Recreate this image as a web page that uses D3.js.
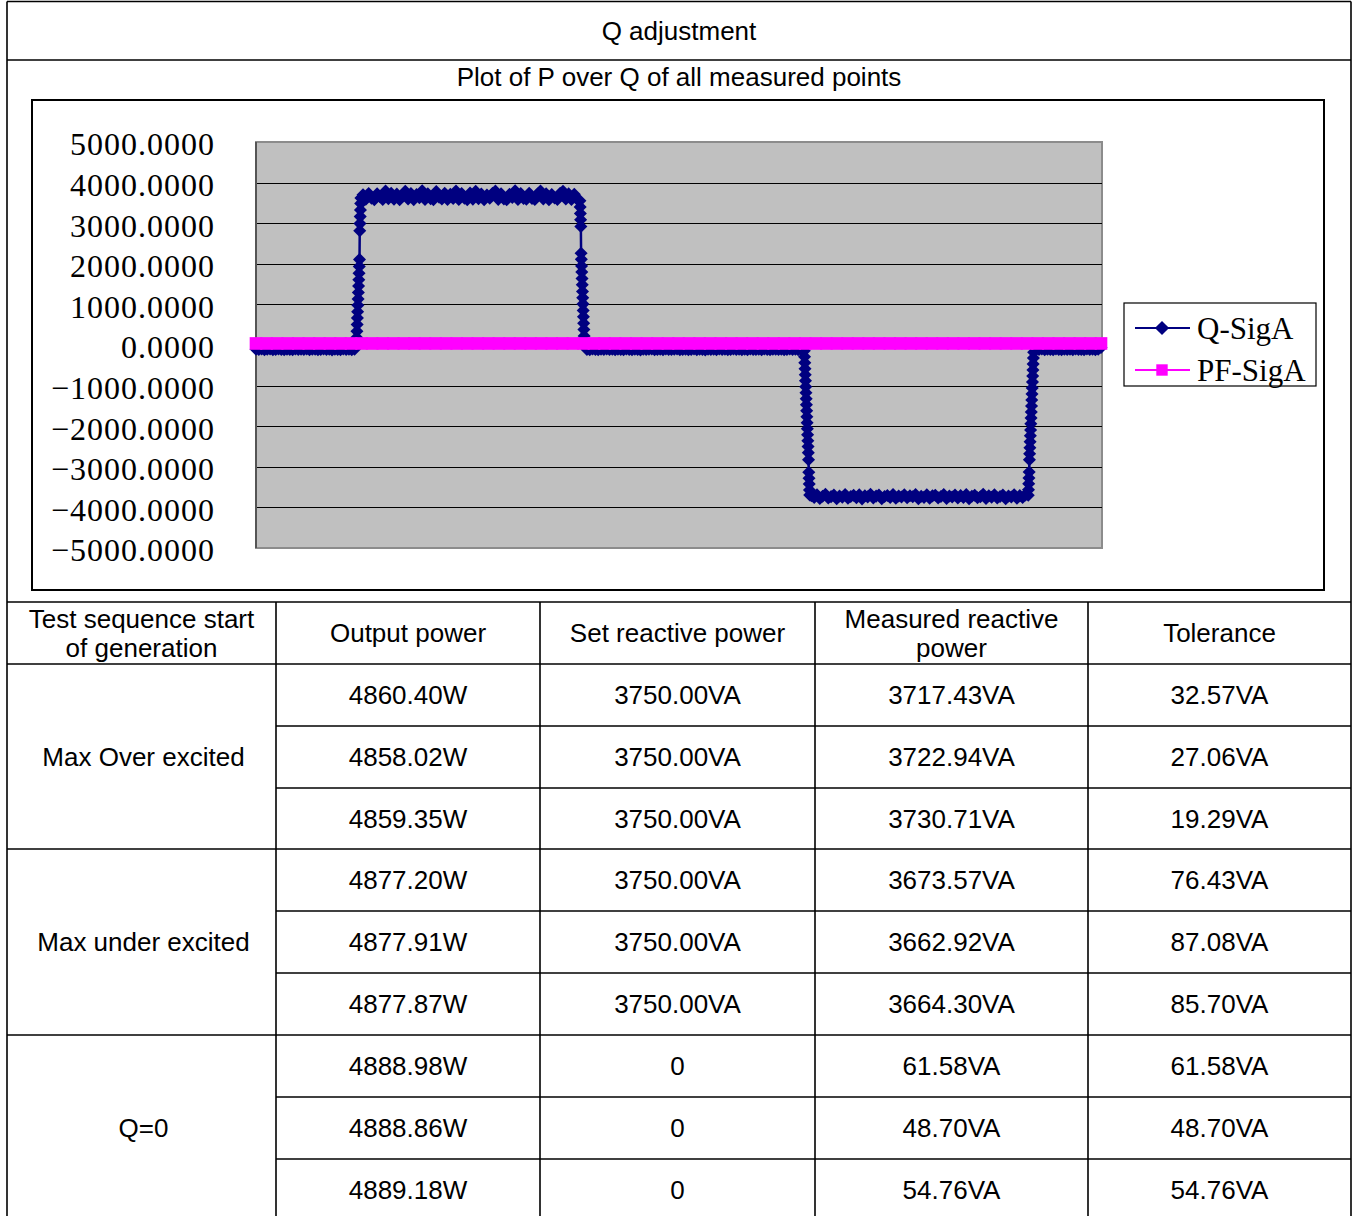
<!DOCTYPE html>
<html>
<head>
<meta charset="utf-8">
<script src="https://cdn.jsdelivr.net/npm/d3@7"></script>
<style>
  body { margin: 0; background: #fff; }
  svg { display: block; }
</style>
</head>
<body>
<script>
// Q-SigA measurements as [sample, VAr], split by test phase
var qBaseStart = [[0,-104],[12,-112],[24,-98],[36,-117],[48,-106],[60,-101],[72,-114],[84,-109],[96,-96],
  [108,-111],[120,-119],[132,-103],[144,-108],[156,-115],[168,-100],[180,-110],[192,-105],[204,-113],[216,-99],
  [228,-118],[240,-107],[252,-102],[264,-116],[276,-110],[288,-97],[300,-112],[312,-105],[324,-120],[336,-103],
  [348,-109],[360,-114],[372,-100],[384,-111],[396,-106],[408,-117],[420,-104]];
var qRiseOver = [[428,32],[429,184],[430,341],[431,507],[432,668],[433,821],[434,979],[435,1134],[436,1291],
  [437,1452],[438,1608],[439,1766],[440,1931],[441,2108],[442,2816],[443,2990],[444,3162],[445,3327],[446,3488],[447,3619]];
var qPlateauOver = [[456,3702],[468,3588],[480,3731],[492,3612],[504,3579],[516,3724],[528,3655],[540,3583],
  [552,3792],[564,3604],[576,3738],[588,3590],[600,3716],[612,3577],[624,3689],[636,3786],[648,3598],[660,3733],
  [672,3581],[684,3709],[696,3626],[708,3799],[720,3586],[732,3727],[744,3603],[756,3578],[768,3783],[780,3640],
  [792,3594],[804,3736],[816,3582],[828,3711],[840,3608],[852,3795],[864,3585],[876,3729],[888,3617],[900,3576],
  [912,3742],[924,3593],[936,3788],[948,3601],[960,3720],[972,3580],[984,3697],[996,3612],[1008,3735],[1020,3790],
  [1032,3587],[1044,3724],[1056,3599],[1068,3578],[1080,3713],[1092,3632],[1104,3797],[1116,3584],[1128,3730],
  [1140,3606],[1152,3589],[1164,3739],[1176,3611],[1188,3582],[1200,3718],[1212,3791],[1224,3595],[1236,3726],
  [1248,3579],[1260,3704],[1272,3621],[1284,3586],[1296,3737],[1308,3785],[1320,3597],[1332,3722],[1344,3583],
  [1356,3710],[1368,3592]];
var qFallOver = [[1380,3552],[1381,3398],[1382,3241],[1383,3087],[1384,2918],[1385,2262],[1386,2109],[1387,1948],
  [1388,1796],[1389,1637],[1390,1482],[1391,1319],[1392,1166],[1393,1007],[1394,852],[1395,694],[1396,538],
  [1397,381],[1398,224],[1399,68]];
var qBaseMid = [[1410,-108],[1422,-115],[1434,-101],[1446,-112],[1458,-119],[1470,-104],[1482,-110],[1494,-97],
  [1506,-113],[1518,-106],[1530,-118],[1542,-102],[1554,-109],[1566,-114],[1578,-99],[1590,-111],[1602,-116],
  [1614,-105],[1626,-108],[1638,-120],[1650,-103],[1662,-112],[1674,-107],[1686,-98],[1698,-115],[1710,-110],
  [1722,-104],[1734,-117],[1746,-101],[1758,-109],[1770,-113],[1782,-106],[1794,-100],[1806,-118],[1818,-111],
  [1830,-103],[1842,-114],[1854,-108],[1866,-99],[1878,-116],[1890,-105],[1902,-112],[1914,-120],[1926,-102],
  [1938,-110],[1950,-107],[1962,-115],[1974,-98],[1986,-113],[1998,-104],[2010,-119],[2022,-109],[2034,-101],
  [2046,-111],[2058,-106],[2070,-117],[2082,-103],[2094,-114],[2106,-100],[2118,-108],[2130,-112],[2142,-105],
  [2154,-118],[2166,-99],[2178,-110],[2190,-115],[2202,-102],[2214,-107],[2226,-113],[2238,-104],[2250,-116],
  [2262,-109],[2274,-101],[2286,-111],[2298,-106],[2310,-114],[2322,-108]];
var qFallUnder = [[2336,-142],[2337,-291],[2338,-437],[2339,-586],[2340,-733],[2341,-881],[2342,-1027],
  [2343,-1178],[2344,-1325],[2345,-1471],[2346,-1620],[2347,-1768],[2348,-1914],[2349,-2062],[2350,-2209],
  [2351,-2357],[2352,-2503],[2353,-2651],[2354,-2827],[2355,-3134],[2356,-3281],[2357,-3425],[2358,-3572],[2359,-3694]];
var qPlateauUnder = [[2366,-3712],[2378,-3758],[2390,-3689],[2402,-3781],[2414,-3724],[2426,-3677],[2438,-3769],
  [2450,-3735],[2462,-3692],[2474,-3786],[2486,-3718],[2498,-3749],[2510,-3683],[2522,-3774],[2534,-3729],
  [2546,-3701],[2558,-3762],[2570,-3688],[2582,-3790],[2594,-3715],[2606,-3741],[2618,-3679],[2630,-3768],
  [2642,-3722],[2654,-3696],[2666,-3784],[2678,-3731],[2690,-3707],[2702,-3755],[2714,-3684],[2726,-3772],
  [2738,-3719],[2750,-3746],[2762,-3690],[2774,-3763],[2786,-3711],[2798,-3738],[2810,-3681],[2822,-3787],
  [2834,-3727],[2846,-3753],[2858,-3686],[2870,-3776],[2882,-3716],[2894,-3699],[2906,-3765],[2918,-3733],
  [2930,-3680],[2942,-3782],[2954,-3721],[2966,-3744],[2978,-3693],[2990,-3770],[3002,-3709],[3014,-3757],
  [3026,-3685],[3038,-3788],[3050,-3726],[3062,-3702],[3074,-3761],[3086,-3739],[3098,-3678],[3110,-3779],
  [3122,-3714],[3134,-3750],[3146,-3691],[3158,-3767],[3170,-3730],[3182,-3697],[3194,-3785],[3206,-3720],
  [3218,-3743],[3230,-3687],[3242,-3773],[3254,-3710],[3266,-3756],[3278,-3694]];
var qRiseUnder = [[3290,-3701],[3291,-3566],[3292,-3419],[3293,-3274],[3294,-3128],[3295,-2826],[3296,-2679],
  [3297,-2531],[3298,-2384],[3299,-2236],[3300,-2091],[3301,-1942],[3302,-1795],[3303,-1648],[3304,-1501],
  [3305,-1353],[3306,-1207],[3307,-1058],[3308,-912],[3309,-764],[3310,-617],[3311,-469],[3312,-322],[3313,-176]];
var qBaseEnd = [[3324,-107],[3336,-113],[3348,-99],[3360,-116],[3372,-104],[3384,-110],[3396,-118],[3408,-101],
  [3420,-109],[3432,-114],[3444,-106],[3456,-111],[3468,-103],[3480,-117],[3492,-100],[3504,-112],[3516,-108],
  [3528,-115],[3540,-98],[3552,-110],[3564,-105],[3576,-119],[3588,-102],[3600,-62]];

// PF-SigA as [sample, PF]
var pfSigA = [[0,1.00],[45,0.99],[90,1.00],[135,1.00],[180,0.99],[225,1.00],[270,0.99],[315,1.00],[360,1.00],[405,0.99],
  [450,0.79],[495,0.80],[540,0.79],[585,0.79],[630,0.80],[675,0.79],[720,0.79],[765,0.80],[810,0.79],[855,0.79],
  [900,0.80],[945,0.79],[990,0.79],[1035,0.80],[1080,0.79],[1125,0.79],[1170,0.80],[1215,0.79],[1260,0.79],
  [1305,0.80],[1350,0.79],[1395,0.99],[1440,1.00],[1485,0.99],[1530,1.00],[1575,1.00],[1620,0.99],[1665,1.00],
  [1710,1.00],[1755,0.99],[1800,1.00],[1845,1.00],[1890,0.99],[1935,1.00],[1980,1.00],[2025,0.99],[2070,1.00],
  [2115,1.00],[2160,0.99],[2205,1.00],[2250,1.00],[2295,0.99],[2340,0.98],[2385,0.79],[2430,0.80],[2475,0.79],
  [2520,0.79],[2565,0.80],[2610,0.79],[2655,0.79],[2700,0.80],[2745,0.79],[2790,0.79],[2835,0.80],[2880,0.79],
  [2925,0.79],[2970,0.80],[3015,0.79],[3060,0.79],[3105,0.80],[3150,0.79],[3195,0.79],[3240,0.80],[3285,0.79],
  [3330,0.99],[3375,1.00],[3420,1.00],[3465,0.99],[3510,1.00],[3555,1.00],[3600,0.99]];

var yTicks = [-5000,-4000,-3000,-2000,-1000,0,1000,2000,3000,4000,5000];
var seriesNames = ["Q-SigA", "PF-SigA"];

// table contents
var tableTitle = "Q adjustment";
var chartTitle = "Plot of P over Q of all measured points";
var headers = [["Test sequence start", "of generation"], ["Output power"], ["Set reactive power"], ["Measured reactive", "power"], ["Tolerance"]];
var groups = ["Max Over excited", "Max under excited", "Q=0"];
var outputPower = ["4860.40W","4858.02W","4859.35W","4877.20W","4877.91W","4877.87W","4888.98W","4888.86W","4889.18W"];
var setReactive = ["3750.00VA","3750.00VA","3750.00VA","3750.00VA","3750.00VA","3750.00VA","0","0","0"];
var measuredReactive = ["3717.43VA","3722.94VA","3730.71VA","3673.57VA","3662.92VA","3664.30VA","61.58VA","48.70VA","54.76VA"];
var tolerance = ["32.57VA","27.06VA","19.29VA","76.43VA","87.08VA","85.70VA","61.58VA","48.70VA","54.76VA"];

var qSigA = [].concat(qBaseStart, qRiseOver, qPlateauOver, qFallOver, qBaseMid,
                      qFallUnder, qPlateauUnder, qRiseUnder, qBaseEnd);

var W = 1353, H = 1216;
var sans = "'Liberation Sans', Arial, sans-serif";
var serif = "'Liberation Serif', 'Times New Roman', serif";

var svg = d3.select("body").append("svg")
  .attr("width", W)
  .attr("height", H);

// ---------- table frame ----------
var L = 7, R = 1351;
var colX = [L, 276, 540, 815, 1088, R];
var rowY = [602, 664, 726, 788, 849, 911, 973, 1035, 1097, 1159, 1221];

function hline(y, x1, x2) {
  svg.append("line").attr("x1", x1).attr("x2", x2).attr("y1", y).attr("y2", y)
    .attr("stroke", "#000").attr("stroke-width", 1.6);
}
function vline(x, y1, y2) {
  svg.append("line").attr("x1", x).attr("x2", x).attr("y1", y1).attr("y2", y2)
    .attr("stroke", "#000").attr("stroke-width", 1.6);
}

hline(1.5, L, R);
hline(60, L, R);
vline(L, 1.5, H);
vline(R, 1.5, H);
rowY.forEach(function (y, i) {
  // inner rows of a merged group only span the data columns
  var full = (i <= 1 || i == 4 || i == 7);
  hline(y, full ? L : colX[1], R);
});
colX.slice(1, 5).forEach(function (x) { vline(x, rowY[0], H); });

function cellText(x, y, str) {
  svg.append("text")
    .attr("x", x).attr("y", y).attr("dy", "0.35em")
    .attr("text-anchor", "middle")
    .style("font-family", sans).style("font-size", "26px").attr("fill", "#000")
    .text(str);
}

cellText(679, 31, tableTitle);
cellText(679, 77, chartTitle);

var colMid = d3.range(5).map(function (i) { return (colX[i] + colX[i + 1]) / 2; });
headers.forEach(function (lines, i) {
  var cy = (rowY[0] + rowY[1]) / 2;
  if (lines.length == 1) cellText(colMid[i], cy, lines[0]);
  else {
    cellText(colMid[i], cy - 14.5, lines[0]);
    cellText(colMid[i], cy + 14.5, lines[1]);
  }
});

var cols = [outputPower, setReactive, measuredReactive, tolerance];
outputPower.forEach(function (d, r) {
  var cy = (rowY[r + 1] + rowY[r + 2]) / 2;
  cols.forEach(function (c, j) { cellText(colMid[j + 1], cy, c[r]); });
});
groups.forEach(function (g, k) {
  cellText(colMid[0] + 2, (rowY[1 + 3 * k] + rowY[4 + 3 * k]) / 2, g);
});

// ---------- chart ----------
svg.append("rect")
  .attr("x", 32).attr("y", 100).attr("width", 1292).attr("height", 490)
  .attr("fill", "#fff").attr("stroke", "#000").attr("stroke-width", 2);

var x = d3.scaleLinear().domain([0, 3600]).range([256, 1101]);
var y = d3.scaleLinear().domain([-5000, 5000]).range([548, 142]);

svg.append("rect")
  .attr("x", 256).attr("y", 142).attr("width", 846).attr("height", 406)
  .attr("fill", "#c0c0c0").attr("stroke", "#8c8c8c").attr("stroke-width", 2);

svg.append("g")
  .selectAll("line")
  .data(yTicks.slice(1, -1))
  .join("line")
    .attr("x1", 256).attr("x2", 1102)
    .attr("y1", function (d) { return Math.round(y(d)) + 0.5; })
    .attr("y2", function (d) { return Math.round(y(d)) + 0.5; })
    .attr("stroke", "#000").attr("stroke-width", 1);

svg.append("line")
  .attr("x1", 256).attr("x2", 256).attr("y1", 142).attr("y2", 548)
  .attr("stroke", "#555").attr("stroke-width", 2);

var yAxis = svg.append("g")
  .attr("transform", "translate(256,0)")
  .call(d3.axisLeft(y).tickValues(yTicks).tickFormat(d3.format(".4f")).tickSize(0).tickPadding(41));
yAxis.select(".domain").remove();
yAxis.selectAll("text")
  .attr("dy", "0.4em")
  .style("font-family", serif).style("font-size", "32px")
  .style("letter-spacing", "1px").attr("fill", "#000");

var line = d3.line()
  .x(function (d) { return x(d[0]); })
  .y(function (d) { return y(d[1]); });

var navy = "#000080", magenta = "#ff00ff";
var diamond = d3.symbol(d3.symbolSquare, 85)();
var square = d3.symbol(d3.symbolSquare, 160)();

svg.append("path").datum(qSigA)
  .attr("fill", "none").attr("stroke", navy).attr("stroke-width", 2.5)
  .attr("d", line);
svg.append("g").selectAll("path")
  .data(qSigA)
  .join("path")
    .attr("d", diamond)
    .attr("fill", navy)
    .attr("transform", function (d) { return "translate(" + x(d[0]) + "," + y(d[1]) + ") rotate(45)"; });

svg.append("path").datum(pfSigA)
  .attr("fill", "none").attr("stroke", magenta).attr("stroke-width", 2.5)
  .attr("d", line);
svg.append("g").selectAll("path")
  .data(pfSigA)
  .join("path")
    .attr("d", square)
    .attr("fill", magenta)
    .attr("transform", function (d) { return "translate(" + x(d[0]) + "," + (y(d[1]) - 1.5) + ")"; });

// ---------- legend ----------
var lg = svg.append("g").attr("transform", "translate(1124,303)");
lg.append("rect").attr("width", 192).attr("height", 83)
  .attr("fill", "#fff").attr("stroke", "#000").attr("stroke-width", 1.2);

var legendColors = [navy, magenta];
seriesNames.forEach(function (name, i) {
  var ly = 25 + i * 42;
  lg.append("line").attr("x1", 11).attr("x2", 66).attr("y1", ly).attr("y2", ly)
    .attr("stroke", legendColors[i]).attr("stroke-width", 2);
  lg.append("path")
    .attr("d", i == 0 ? d3.symbol(d3.symbolSquare, 100)() : d3.symbol(d3.symbolSquare, 130)())
    .attr("fill", legendColors[i])
    .attr("transform", "translate(38," + ly + ")" + (i == 0 ? " rotate(45)" : ""));
  lg.append("text")
    .attr("x", 73).attr("y", ly).attr("dy", "0.36em")
    .style("font-family", serif).style("font-size", "31px").attr("fill", "#000")
    .text(name);
});
</script>
</body>
</html>
